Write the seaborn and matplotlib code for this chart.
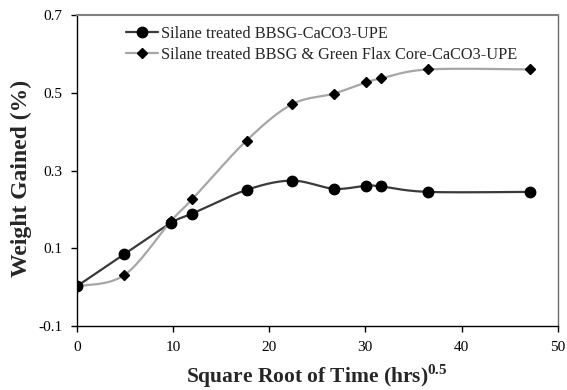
import numpy as np
import pandas as pd
import matplotlib
matplotlib.use("Agg")
import matplotlib.pyplot as plt
import seaborn as sns
from matplotlib.lines import Line2D

# ---- data ----
sqrt_time = [0, 4.95, 9.8, 12.0, 17.65, 22.35, 26.75, 30.1, 31.65, 36.5, 47.1]
bbsg_caco3 = [0.002, 0.085, 0.165, 0.189, 0.250, 0.274, 0.253, 0.261, 0.259, 0.245, 0.245]
bbsg_flax = [0.002, 0.031, 0.170, 0.226, 0.377, 0.470, 0.498, 0.527, 0.537, 0.560, 0.560]
series_names = ["Silane treated BBSG-CaCO3-UPE",
                "Silane treated BBSG & Green Flax Core-CaCO3-UPE"]
x_ticks = [0, 10, 20, 30, 40, 50]
y_ticks = [-0.1, 0.1, 0.3, 0.5, 0.7]


def smooth(x, y, n=30):
    """Excel-like smoothed line (cardinal spline) through the data points."""
    x = np.asarray(x, float)
    y = np.asarray(y, float)
    px = np.concatenate([[x[0]], x, [x[-1]]])
    py = np.concatenate([[y[0]], y, [y[-1]]])
    xs, ys = [], []
    for i in range(1, len(px) - 2):
        p0, p1, p2, p3 = (np.array([px[j], py[j]]) for j in (i - 1, i, i + 1, i + 2))
        t = np.linspace(0, 1, n, endpoint=False)[:, None]
        c1 = p1 + (p2 - p0) / 6.0
        c2 = p2 - (p3 - p1) / 6.0
        pts = ((1 - t) ** 3) * p1 + 3 * ((1 - t) ** 2) * t * c1 + 3 * (1 - t) * t ** 2 * c2 + t ** 3 * p2
        xs.append(pts[:, 0])
        ys.append(pts[:, 1])
    xs.append([x[-1]])
    ys.append([y[-1]])
    return np.concatenate(xs), np.concatenate(ys)


sns.set_theme(style="white")
plt.rcParams["font.family"] = ["Liberation Serif", "DejaVu Serif"]
plt.rcParams["mathtext.fontset"] = "custom"
plt.rcParams["mathtext.rm"] = "Liberation Serif"
plt.rcParams["mathtext.bf"] = "Liberation Serif:bold"

fig = plt.figure(figsize=(5.67, 3.90), dpi=100)
ax = fig.add_axes([0.1353, 0.1641, 0.8483, 0.7974])

styles = [
    dict(line="#3a3a3a", marker="o", ms=7.5),
    dict(line="#a6a6a6", marker="D", ms=5.5),
]
for vals, name, st in zip([bbsg_caco3, bbsg_flax], series_names, styles):
    sx, sy = smooth(sqrt_time, vals)
    sns.lineplot(x=sx, y=sy, ax=ax, color=st["line"], linewidth=1.6,
                 sort=False, estimator=None)
    ax.plot(sqrt_time, vals, linestyle="none", marker=st["marker"],
            markersize=st["ms"], color="black", zorder=3)

handles = [Line2D([], [], color=st["line"], lw=1.6, marker=st["marker"],
                  markersize=st["ms"], markerfacecolor="black",
                  markeredgecolor="black") for st in styles]
ax.legend(handles, series_names, loc="upper left", bbox_to_anchor=(0.089, 0.985),
          frameon=False, fontsize=11.7, handlelength=1.95, handletextpad=0.2,
          labelspacing=0.3, borderaxespad=0)

ax.set_xlim(0, 50)
ax.set_ylim(-0.1, 0.7)
ax.set_xticks(x_ticks)
ax.set_yticks(y_ticks)
ax.set_yticklabels([f"{v:.1f}" for v in y_ticks])
ax.tick_params(axis="both", labelsize=11, length=4, width=1, direction="out",
               colors="black", left=True, bottom=True)
ax.tick_params(axis="y", pad=6)
ax.tick_params(axis="x", pad=7)

for s in ["left", "bottom"]:
    ax.spines[s].set_color("black")
    ax.spines[s].set_linewidth(1.0)
ax.spines["top"].set_color("#808080")
ax.spines["top"].set_linewidth(1.5)
ax.spines["right"].set_color("#6a6a6a")
ax.spines["right"].set_linewidth(1.0)

ax.set_xlabel(r"Square Root of Time (hrs)$^{\mathbf{0.5}}$", fontsize=15.5,
              fontweight="bold", labelpad=6)
ax.set_ylabel("Weight Gained (%)", fontsize=17, fontweight="bold")
ax.yaxis.set_label_coords(-0.093, 0.473)

fig.savefig("out.png", dpi=100)
